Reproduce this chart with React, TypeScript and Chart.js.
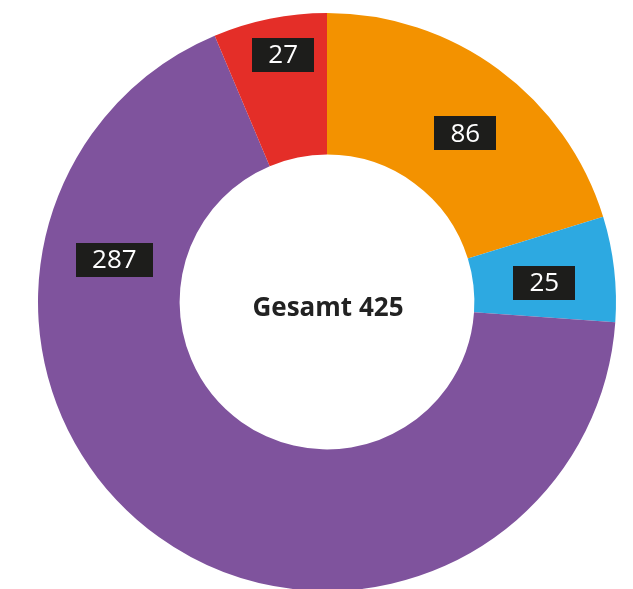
import React, { useEffect, useRef } from "react";
import { Chart, registerables } from "chart.js";

Chart.register(...registerables);

const categories = ["Orange", "Blau", "Lila", "Rot"];
const values = [86, 25, 287, 27];
const colors = ["#F39200", "#2DA9E1", "#7F539D", "#E42E28"];
const totalLabel = "Gesamt";

// where inside each slice its value box sits (fraction of slice angle, fraction of ring width)
const labelAngleFrac = [0.54, 0.57, 0.77, 0.56];
const labelRadiusFrac = [0.5, 0.5, 0.49, 0.73];

const labelPlugin = {
  id: "sliceLabels",
  afterDatasetsDraw(chart: any) {
    const ctx = chart.ctx;
    const meta = chart.getDatasetMeta(0);
    ctx.save();
    ctx.font = "26px 'Open Sans'";
    ctx.textAlign = "center";
    ctx.textBaseline = "middle";
    meta.data.forEach((arc: any, i: number) => {
      const p = arc.getProps(["x", "y", "startAngle", "endAngle", "innerRadius", "outerRadius"], true);
      const a = p.startAngle + labelAngleFrac[i] * (p.endAngle - p.startAngle);
      const r = p.innerRadius + labelRadiusFrac[i] * (p.outerRadius - p.innerRadius);
      const cx = p.x + r * Math.cos(a);
      const cy = p.y + r * Math.sin(a);
      const text = String(values[i]);
      const w = ctx.measureText(text).width + 32;
      const h = 34;
      ctx.fillStyle = "#1D1D1B";
      ctx.fillRect(Math.round(cx - w / 2), Math.round(cy - h / 2), Math.round(w), h);
      ctx.fillStyle = "#FFFFFF";
      ctx.fillText(text, cx, cy + 1);
    });
    // centre total
    const arc0 = meta.data[0];
    if (arc0) {
      const total = values.reduce((s, v) => s + v, 0);
      ctx.fillStyle = "#222222";
      ctx.font = "bold 26px 'Open Sans'";
      ctx.fillText(`${totalLabel} ${total}`, arc0.x + 1, arc0.y + 7);
    }
    ctx.restore();
  },
};

export default function App() {
  const ref = useRef<HTMLCanvasElement | null>(null);
  useEffect(() => {
    if (!ref.current) return;
    const chart = new Chart(ref.current, {
      type: "doughnut",
      data: {
        labels: categories,
        datasets: [
          {
            data: values,
            backgroundColor: colors,
            borderWidth: 0,
            hoverOffset: 0,
            offset: 0,
          },
        ],
      },
      options: {
        animation: false,
        responsive: false,
        devicePixelRatio: 1,
        radius: 289,
        cutout: "51%",
        layout: { padding: { left: 21, right: 0, top: 15, bottom: 0 } },
        plugins: {
          legend: { display: false },
          tooltip: { enabled: false },
        },
      } as any,
      plugins: [labelPlugin],
    });
    return () => chart.destroy();
  }, []);
  return (
    <div style={{ position: "absolute", left: 0, top: 0, width: 633, height: 589, background: "#fff" }}>
      <canvas ref={ref} width={633} height={589} style={{ display: "block" }} />
    </div>
  );
}
